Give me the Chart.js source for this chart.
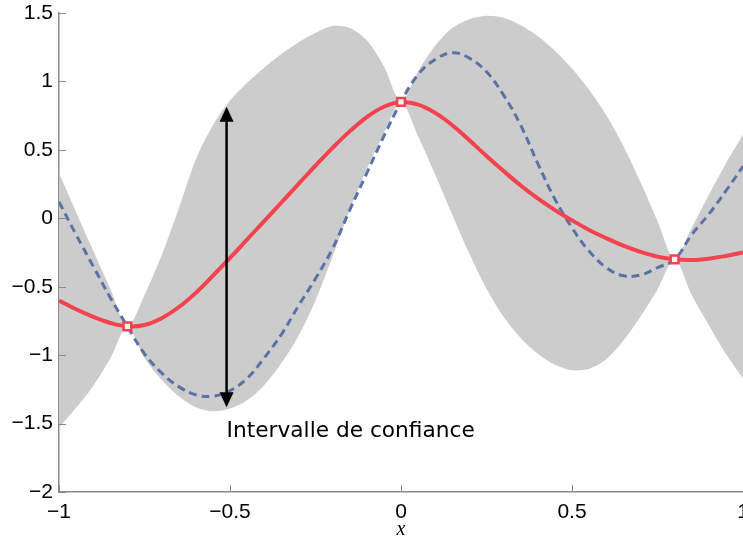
<!DOCTYPE html>
<html>
<head>
<meta charset="utf-8">
<script src="https://cdn.jsdelivr.net/npm/chart.js@4/dist/chart.umd.min.js"></script>
<style>
html,body{margin:0;padding:0;background:#fff;}
#wrap{width:743px;height:544px;position:relative;}
</style>
</head>
<body>
<div id="wrap"><canvas id="c"></canvas></div>
<script>
// ---- data ----
const xs = [-1,-0.95,-0.9,-0.85,-0.8,-0.75,-0.7,-0.65,-0.6,-0.55,-0.5,-0.45,-0.4,-0.35,-0.3,-0.25,-0.2,-0.15,-0.1,-0.05,0,
            0.05,0.1,0.15,0.2,0.25,0.3,0.35,0.4,0.45,0.5,0.55,0.6,0.65,0.7,0.75,0.8,0.85,0.9,0.95,1];
const meanVals = [-0.60,-0.665,-0.72,-0.765,-0.79,-0.78,-0.73,-0.65,-0.545,-0.42,-0.29,-0.155,-0.02,0.115,0.25,0.385,0.515,0.635,0.74,0.815,0.85,
                  0.83,0.77,0.68,0.57,0.455,0.345,0.24,0.145,0.06,-0.015,-0.085,-0.145,-0.20,-0.245,-0.28,-0.30,-0.305,-0.295,-0.275,-0.25];
const sampleVals = [0.12,-0.12,-0.35,-0.58,-0.79,-0.99,-1.13,-1.23,-1.29,-1.30,-1.26,-1.17,-1.02,-0.85,-0.64,-0.44,-0.22,0.06,0.33,0.60,0.85,
                    1.05,1.16,1.21,1.17,1.07,0.90,0.68,0.40,0.14,-0.07,-0.24,-0.36,-0.42,-0.415,-0.36,-0.30,-0.12,0.03,0.20,0.38];
const upperVals = [0.33,0.045,-0.235,-0.515,-0.79,-0.56,-0.27,0.07,0.43,0.68,0.86,0.99,1.10,1.20,1.285,1.355,1.405,1.39,1.30,1.11,0.85,
                   1.075,1.26,1.39,1.455,1.48,1.465,1.41,1.33,1.225,1.095,0.94,0.755,0.53,0.265,-0.02,-0.30,-0.07,0.17,0.40,0.61];
const lowerVals = [-1.53,-1.385,-1.225,-1.025,-0.79,-1.02,-1.18,-1.30,-1.38,-1.41,-1.39,-1.33,-1.22,-1.06,-0.86,-0.60,-0.28,0.06,0.36,0.62,0.85,
                   0.60,0.32,0.025,-0.26,-0.515,-0.72,-0.875,-0.99,-1.07,-1.11,-1.10,-1.03,-0.895,-0.72,-0.52,-0.30,-0.56,-0.78,-0.99,-1.17];
const obsX = [-0.8, 0, 0.8];
const obsY = [-0.79, 0.85, -0.30];
const xTicks = [-1,-0.5,0,0.5,1];
const yTicks = [-2,-1.5,-1,-0.5,0,0.5,1,1.5];
const arrowX = -0.51, arrowTop = 0.815, arrowBottom = -1.38;
const labelText = 'Intervalle de confiance';
const labelX = -0.51, labelY = -1.56;

const pts = arr => xs.map((x,i)=>({x:x, y:arr[i]}));
const fmt = v => String(v).replace('-', '\u2212');

const RED = '#F2434F', BLUE = '#5A73A6', BAND = '#CCCCCC', AXIS = '#8a8a8a';

const innerTicks = {
  id:'innerTicks',
  afterDraw(chart){
    const ctx = chart.ctx, a = chart.chartArea;
    const sx = chart.scales.x, sy = chart.scales.y;
    ctx.save();
    ctx.strokeStyle = AXIS; ctx.lineWidth = 1;
    xTicks.forEach(v=>{ const p = Math.round(sx.getPixelForValue(v))+0.5; ctx.beginPath(); ctx.moveTo(p,a.bottom); ctx.lineTo(p,a.bottom-7); ctx.stroke(); });
    yTicks.forEach(v=>{ const p = Math.round(sy.getPixelForValue(v))+0.5; ctx.beginPath(); ctx.moveTo(a.left,p); ctx.lineTo(a.left+7,p); ctx.stroke(); });
    ctx.restore();
  },
  afterDatasetsDraw(chart){
    const ctx = chart.ctx;
    const sx = chart.scales.x, sy = chart.scales.y;
    const x = sx.getPixelForValue(arrowX);
    const yt = sy.getPixelForValue(arrowTop), yb = sy.getPixelForValue(arrowBottom);
    const hl = 15, hw = 7;
    ctx.save();
    ctx.strokeStyle = '#000'; ctx.fillStyle = '#000'; ctx.lineWidth = 2.5;
    ctx.beginPath(); ctx.moveTo(x, yt+hl-2); ctx.lineTo(x, yb-hl+2); ctx.stroke();
    ctx.beginPath(); ctx.moveTo(x,yt); ctx.lineTo(x-hw,yt+hl); ctx.lineTo(x+hw,yt+hl); ctx.closePath(); ctx.fill();
    ctx.beginPath(); ctx.moveTo(x,yb); ctx.lineTo(x-hw,yb-hl); ctx.lineTo(x+hw,yb-hl); ctx.closePath(); ctx.fill();
    ctx.font = '21.7px "DejaVu Sans"';
    ctx.textBaseline = 'middle'; ctx.textAlign = 'left';
    ctx.fillText(labelText, sx.getPixelForValue(labelX), sy.getPixelForValue(labelY));
    ctx.restore();
  }
};

new Chart(document.getElementById('c'), {
  type:'line',
  data:{
    datasets:[
      {data: obsX.map((x,i)=>({x:x,y:obsY[i]})), showLine:false, pointStyle:'rect', pointRadius:5.5,
       pointBorderWidth:2.5, pointBorderColor:RED, pointBackgroundColor:'#f2f2f2'},
      {data: pts(meanVals), borderColor:RED, borderWidth:4, pointRadius:0, tension:0.4, fill:false},
      {data: pts(sampleVals), borderColor:BLUE, borderWidth:3, borderDash:[8,5], pointRadius:0, tension:0.4, fill:false},
      {data: pts(upperVals), borderWidth:0, borderColor:BAND, backgroundColor:BAND, pointRadius:0, tension:0.3, fill:'+1'},
      {data: pts(lowerVals), borderWidth:0, borderColor:BAND, backgroundColor:BAND, pointRadius:0, tension:0.3, fill:false}
    ]
  },
  options:{
    responsive:true, maintainAspectRatio:false, animation:false,
    layout:{autoPadding:false, padding:{top:13,right:0,left:0,bottom:0}},
    plugins:{legend:{display:false}, tooltip:{enabled:false}},
    scales:{
      x:{type:'linear', min:-1, max:1,
         afterBuildTicks: s => { s.ticks = xTicks.map(v=>({value:v})); },
         afterFit: s => { s.height = 52; s.paddingLeft = 0; s.paddingRight = 0; },
         grid:{display:true, drawOnChartArea:false, drawTicks:false},
         border:{display:true, color:AXIS, width:1.5},
         ticks:{padding:8, color:'#000', maxRotation:0, autoSkip:false,
                font:{family:'"Liberation Sans", Arial, sans-serif', size:21}, callback:v=>fmt(v)},
         title:{display:true, text:'x', color:'#000', padding:{top:0,bottom:2},
                font:{family:'"Liberation Serif", serif', style:'italic', size:20}}},
      y:{type:'linear', min:-2, max:1.5,
         afterBuildTicks: s => { s.ticks = yTicks.map(v=>({value:v})); },
         afterFit: s => { s.width = 59; s.paddingTop = 0; s.paddingBottom = 0; },
         grid:{display:true, drawOnChartArea:false, drawTicks:false},
         border:{display:true, color:AXIS, width:1.5},
         ticks:{padding:6, color:'#000', autoSkip:false,
                font:{family:'"Liberation Sans", Arial, sans-serif', size:21}, callback:v=>fmt(v)}}
    }
  },
  plugins:[innerTicks]
});
</script>
</body>
</html>
